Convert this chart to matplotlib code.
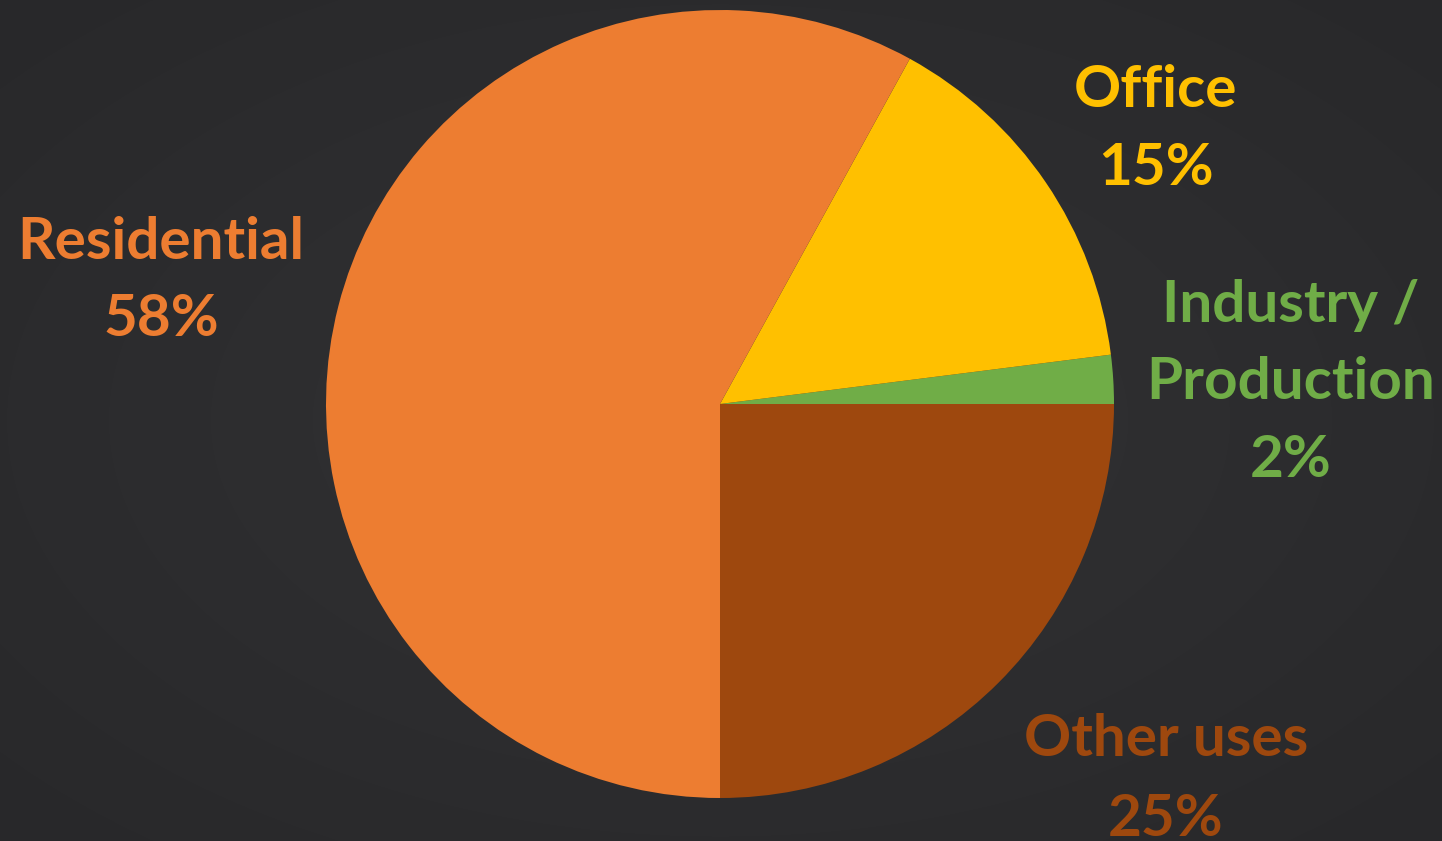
import numpy as np
import matplotlib.pyplot as plt

# floor-space share by use
categories = ["Industry /\nProduction", "Office", "Residential", "Other uses"]
shares = [2, 15, 58, 25]
colors = ["#70AD47", "#FFC000", "#ED7D31", "#9E480E"]

W, H = 1442, 841
fig = plt.figure(figsize=(W / 100, H / 100), dpi=100)

# dark radial background
bg = fig.add_axes([0, 0, 1, 1])
yy, xx = np.mgrid[0:H, 0:W]
r = np.hypot((xx - 720) / W, (yy - 420) / H)
r = r / r.max()
c0 = np.array([0x32, 0x32, 0x34]) / 255
c1 = np.array([0x28, 0x28, 0x2a]) / 255
img = c0[None, None, :] * (1 - r[..., None]) + c1[None, None, :] * r[..., None]
bg.imshow(img, extent=[0, W, H, 0], aspect="auto")
bg.set_xlim(0, W)
bg.set_ylim(H, 0)
bg.axis("off")

# pie centred at (720, 404) px with radius 394 px
cx, cy, rad = 720, 404, 394
ax = fig.add_axes([(cx - rad) / W, (H - cy - rad) / H, 2 * rad / W, 2 * rad / H])
ax.pie(shares, colors=colors, startangle=0, counterclock=True,
       wedgeprops=dict(linewidth=0))
ax.set_xlim(-1, 1)
ax.set_ylim(-1, 1)
ax.set_aspect("equal")
ax.axis("off")

# label blocks: (x centre, first line y, line gap) in pixels
label_pos = [(1291, 305, 77.5), (1156, 90, 78), (161, 242, 78), (1166, 740, 80)]
for name, val, col, (lx, ly, gap) in zip(categories, shares, colors, label_pos):
    lines = name.split("\n") + [f"{val}%"]
    for i, line in enumerate(lines):
        bg.text(lx, ly + i * gap, line, color=col, ha="center", va="center",
                fontsize=42, fontweight="bold", family="Lato")

fig.savefig("out.png", dpi=100)
